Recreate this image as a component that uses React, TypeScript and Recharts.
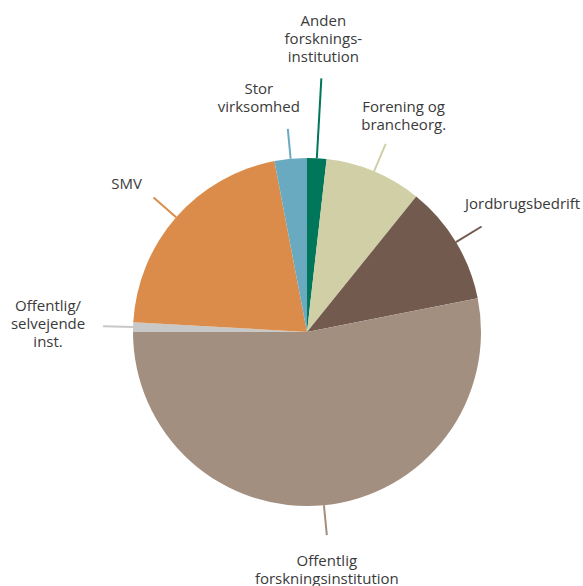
import { PieChart, Pie, Cell } from 'recharts'

document.body.style.margin = '0'

const categories = [
  'Anden forskningsinstitution',
  'Forening og brancheorg.',
  'Jordbrugsbedrift',
  'Offentlig forskningsinstitution',
  'Offentlig/selvejende inst.',
  'SMV',
  'Stor virksomhed',
]
const shares = [1.8, 9.0, 11.1, 53.1, 0.9, 21.1, 3.0]
const labelLines = [
  ['Anden', 'forsknings-', 'institution'],
  ['Forening og', 'brancheorg.'],
  ['Jordbrugsbedrift'],
  ['Offentlig', 'forskningsinstitution'],
  ['Offentlig/', 'selvejende', 'inst.'],
  ['SMV'],
  ['Stor', 'virksomhed'],
]
const colors = ['#00775a', '#d1cfa6', '#735a4f', '#a38f80', '#c8c8c8', '#dc8c4a', '#6aaac0']

// leader length and text offset from the leader end (layout only)
const leaderLen = [80, 30, 30, 30, 30, 30, 30]
const textOffset: Array<{ dx: number; dy: number }> = [
  { dx: 2, dy: -58 },
  { dx: 18, dy: -38 },
  { dx: 41, dy: -24 },
  { dx: 0, dy: 25 },
  { dx: -55, dy: -21 },
  { dx: -27, dy: -15 },
  { dx: -29, dy: -41 },
]
const LINE_H = 18

const data = categories.map((name, i) => ({ name, value: shares[i] }))

const RAD = Math.PI / 180

function renderLabel(props: any) {
  const { cx, cy, midAngle, outerRadius, index } = props
  const sin = Math.sin(-midAngle * RAD)
  const cos = Math.cos(-midAngle * RAD)
  const x1 = cx + outerRadius * cos
  const y1 = cy + outerRadius * sin
  const r2 = outerRadius + leaderLen[index]
  const x2 = cx + r2 * cos
  const y2 = cy + r2 * sin
  const off = textOffset[index]
  return (
    <g key={`label-${index}`}>
      <line x1={x1} y1={y1} x2={x2} y2={y2} stroke={colors[index]} strokeWidth={2} />
      <text
        x={x2 + off.dx}
        y={y2 + off.dy}
        textAnchor="middle"
        dominantBaseline="central"
        fill="#3a3a3a"
        fontSize={15}
        fontFamily="'Open Sans', sans-serif"
      >
        {labelLines[index].map((line, j) => (
          <tspan key={j} x={x2 + off.dx} y={y2 + off.dy + j * LINE_H}>
            {line}
          </tspan>
        ))}
      </text>
    </g>
  )
}

export default function App() {
  return (
    <div style={{ width: 583, height: 586, background: '#ffffff' }}>
      <PieChart width={583} height={586} margin={{ top: 0, right: 0, bottom: 0, left: 0 }}>
        <Pie
          data={data}
          dataKey="value"
          nameKey="name"
          cx={307}
          cy={332}
          outerRadius={174}
          startAngle={90}
          endAngle={-270}
          stroke="none"
          label={renderLabel}
          labelLine={false}
          isAnimationActive={false}
        >
          {data.map((entry, i) => (
            <Cell key={entry.name} fill={colors[i]} />
          ))}
        </Pie>
      </PieChart>
    </div>
  )
}
